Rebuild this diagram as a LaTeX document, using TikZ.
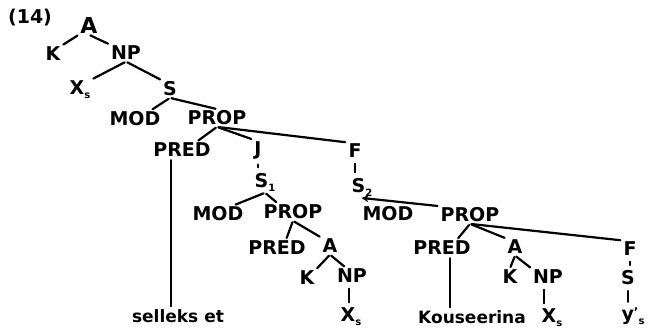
\documentclass[tikz,border=0pt]{standalone}
\usepackage{fontspec}
\setmainfont{DejaVu Sans}
\usetikzlibrary{arrows.meta,calc}
\newcommand{\subs}[1]{\raisebox{-4pt}{\fontsize{10}{10}\selectfont #1}}
\begin{document}
\begin{tikzpicture}[x=1pt,y=-1pt,
  lab/.style={inner sep=1.5pt, font=\fontsize{19}{21}\selectfont\bfseries},
  big/.style={inner sep=1.5pt, font=\fontsize{22}{24}\selectfont\bfseries},
  word/.style={inner sep=1.5pt, font=\fontsize{17}{20}\selectfont\bfseries},
  br/.style={line width=2.2pt, line cap=round, shorten <=1.5pt, shorten >=1.5pt},
  stub/.style={line width=2.2pt, line cap=round, shorten <=4pt, shorten >=4pt}]
\useasboundingbox (0,0) rectangle (650,332);
% top part
\node[lab] (n14) at (30,18) {(14)};
\node[big] (A0) at (89,25) {A};
\node[lab] (K0) at (53,54) {K};
\node[lab] (NP0) at (126,53) {NP};
\node[lab] (X0) at (80,90) {X\subs{s}};
\node[lab] (S0) at (170,89) {S};
\node[lab] (MOD0) at (135,119) {MOD};
\node[lab] (PROP0) at (217,118) {PROP};
\node[lab] (PRED0) at (182,150) {PRED};
\node[lab] (J) at (258,150) {J};
\node[lab] (F0) at (355,151) {F};
\node[lab] (S1) at (265,182) {S\subs{1}};
\node[lab] (S2) at (362,187) {S\subs{2}};
% S1 subtree
\node[lab] (MOD1) at (218,214) {MOD};
\node[lab] (PROP1) at (293,212) {PROP};
\node[lab] (PRED1) at (277,248) {PRED};
\node[lab] (A1) at (330,246) {A};
\node[lab] (K1) at (307,278) {K};
\node[lab] (NP1) at (352,276) {NP};
\node[lab] (X1) at (351,317) {X\subs{s}};
\node[word] (sel) at (178,316) {selleks et};
% S2 subtree
\node[lab] (MOD2) at (388,214) {MOD};
\node[lab] (PROP2) at (470,215) {PROP};
\node[lab] (PRED2) at (442,248) {PRED};
\node[lab] (A2) at (515,247) {A};
\node[lab] (F2) at (630,249) {F};
\node[lab] (K2) at (510,277) {K};
\node[lab] (NP2) at (548,277) {NP};
\node[lab] (X2) at (552,318) {X\subs{s}};
\node[word] (kous) at (472,317) {Kouseerina};
\node[lab] (S3) at (628,278) {S};
\node[lab] (Y) at (633,316) {y\raisebox{4pt}{\fontsize{12}{12}\selectfont’}\subs{s}};
% branches
\draw[br] (A0.south west) -- (K0.north east);
\draw[br] (A0.south) -- (NP0.north west);
\draw[br] (NP0.south) -- (X0.north east);
\draw[br] (NP0.south) -- (S0.north west);
\draw[br] (S0.south) -- ($(MOD0.north)!.6!(MOD0.north east)$);
\draw[br] (S0.south) -- (PROP0.north);
\draw[br] (PROP0.south) -- ($(PRED0.north)!.5!(PRED0.north east)$);
\draw[br] (PROP0.south) -- (J.north west);
\draw[br] (PROP0.south) -- (F0.north west);
\draw[stub] (J.south) -- (J.south |- S1.north);
\draw[stub] (F0.south) -- (F0.south |- S2.north);
\draw[br] (S1.south) -- ($(MOD1.north)!.6!(MOD1.north east)$);
\draw[br] (S1.south) -- ($(PROP1.north)!.5!(PROP1.north west)$);
\draw[br] (PROP1.south) -- ($(PRED1.north)!.3!(PRED1.north east)$);
\draw[br] (PROP1.south) -- (A1.north west);
\draw[br] (A1.south) -- (K1.north east);
\draw[br] (A1.south) -- ($(NP1.north)!.4!(NP1.north west)$);
\draw[stub] ([xshift=-3pt]NP1.south) -- ([xshift=-3pt]NP1.south |- X1.north);
\draw[br] ([xshift=-11pt]PRED0.south) -- ([xshift=-11pt]PRED0.south |- sel.north);
\draw[br, -{Stealth[length=7pt,width=7pt]}] (PROP2.north west) -- ([xshift=-2pt]S2.south);
\draw[br] (PROP2.south) -- ($(PRED2.north)!.5!(PRED2.north east)$);
\draw[br] (PROP2.south) -- (A2.north west);
\draw[br] (PROP2.south) -- (F2.north west);
\draw[br] (A2.south) -- (K2.north);
\draw[br] (A2.south) -- (NP2.north west);
\draw[stub] ([xshift=-4pt]NP2.south) -- ([xshift=-4pt]NP2.south |- X2.north);
\draw[br] ([xshift=8pt]PRED2.south) -- ([xshift=8pt]PRED2.south |- kous.north);
\draw[stub] (F2.south) -- (F2.south |- S3.north);
\draw[stub] (S3.south) -- (S3.south |- Y.north);
\end{tikzpicture}
\end{document}
